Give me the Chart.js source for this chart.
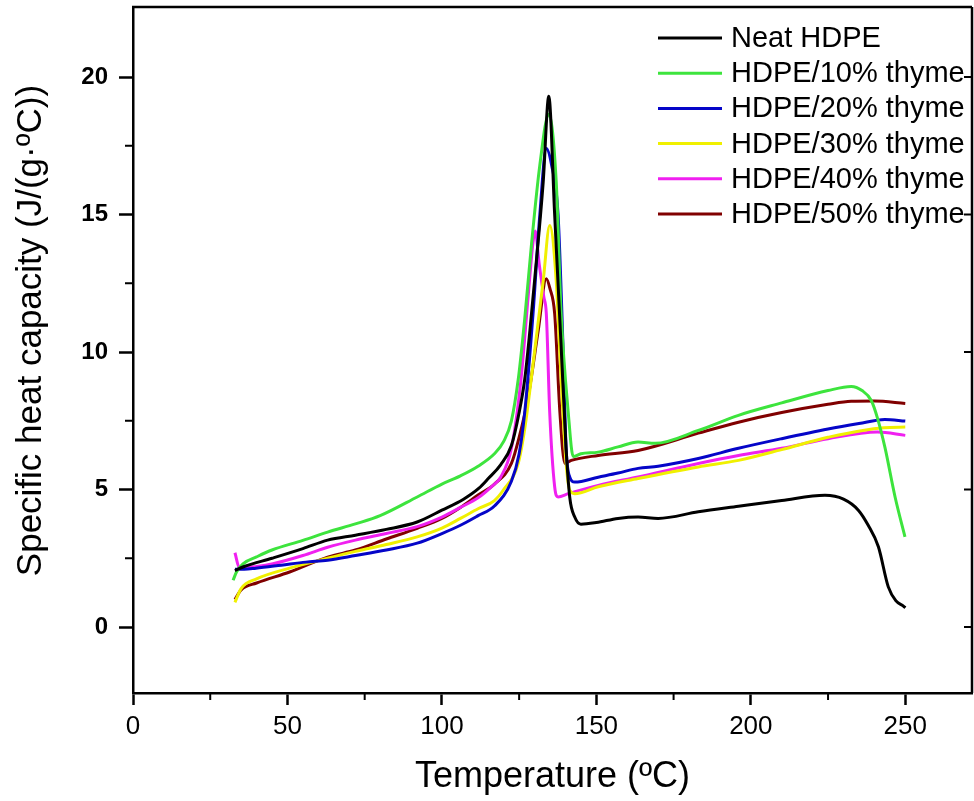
<!DOCTYPE html>
<html><head><meta charset="utf-8">
<script src="https://cdn.jsdelivr.net/npm/chart.js@4.4.1/dist/chart.umd.min.js"></script>
<style>html,body{margin:0;padding:0;background:#fff;}canvas{display:block;}</style>
</head><body>
<canvas id="c" width="974" height="801"></canvas>
<script>
// ---------- data ----------
const seriesLabels = ['Neat HDPE','HDPE/10% thyme','HDPE/20% thyme','HDPE/30% thyme','HDPE/40% thyme','HDPE/50% thyme'];
const seriesColors = ['#000000','#3de43d','#0505c8','#f0f000','#f020f0','#800000'];

const neatT  = [33,36,45,55,63,72,82,92,100,107,112,115,119,122.5,125,126.8,128.5,130,132.8,134.6,136.5,138.6,140.2,141.4,143,145,150,157,163.5,170,183,196,210,224,230,234.8,238,241.3,244.5,247,249.4,250];
const neatCp = [2.05,2.2,2.5,2.85,3.16,3.34,3.55,3.82,4.25,4.65,5.05,5.4,5.9,6.6,7.8,9.0,10.8,12.6,16.2,19.3,15.0,10.2,6.5,4.7,4.0,3.74,3.8,3.95,4.0,3.95,4.19,4.39,4.6,4.79,4.65,4.25,3.7,2.92,1.46,0.95,0.76,0.7];

const t10T  = [32.4,33.5,35.6,40,45,55,63,72,80,92,100,106,111.7,117,120,122.5,124.7,126.8,128.9,131.7,134.6,137,138.6,140.9,142.5,145,150.6,157,163.5,169,183,196,210,225,232.5,236,239,241,243.4,246.7,249.9];
const t10Cp = [1.7,2.0,2.3,2.55,2.8,3.15,3.45,3.75,4.05,4.73,5.2,5.5,5.85,6.3,6.75,7.5,9.0,11.2,13.8,16.8,18.65,16.2,11.4,7.8,6.2,6.3,6.36,6.55,6.73,6.68,7.15,7.7,8.15,8.6,8.75,8.6,8.24,7.6,6.54,4.73,3.28];

const t20T  = [33,36,39.8,48,56,63,72,82,92,100,106,111.7,117,122.5,125,126.8,129.5,131.7,133.8,135.5,137.6,139.2,140.2,141.4,143,150.6,157,163.5,170,183,196,210,225,235,243.4,250];
const t20Cp = [2.1,2.1,2.14,2.25,2.36,2.43,2.6,2.8,3.05,3.4,3.7,4.05,4.4,5.3,6.3,7.8,11.4,15.0,17.4,16.8,15.0,10.2,6.5,5.45,5.27,5.45,5.6,5.77,5.85,6.13,6.5,6.85,7.2,7.4,7.55,7.49];

const t30T  = [33,35,40,50.7,63,72,82,92,100,106,111.7,117,120,124.7,126.8,128.9,132.8,134.9,137,138.6,140.2,141.4,143,150.6,163.5,183,196,210,225,243,250];
const t30Cp = [0.9,1.4,1.75,2.14,2.5,2.75,3.0,3.28,3.6,3.95,4.3,4.6,5.0,5.95,7.2,9.0,12.6,14.6,12.6,9.0,5.95,4.97,4.85,5.1,5.4,5.82,6.06,6.45,6.9,7.25,7.27];

const t40T  = [33,34.5,40,45.3,55,63,72,82,92,100,106,111.7,116,119,122.5,125.6,127.9,129.5,130.2,131.5,133,133.8,134.9,136.5,137.6,140.9,150.6,163.5,183,196,210,225,241,250];
const t40Cp = [2.7,2.14,2.2,2.3,2.6,2.9,3.16,3.4,3.65,4.0,4.35,4.7,5.1,5.45,6.5,9.0,12.0,14.0,14.4,13.2,12.0,11.4,7.8,5.1,4.73,4.85,5.15,5.46,5.95,6.24,6.5,6.85,7.09,6.97];

const t50T  = [33,35,40,50.7,63,72,82,92,100,106,111.7,117,122.5,125,127.9,131.2,133.8,135,136.5,138.2,139.8,141.9,150.6,163.5,183,196,210,225,232.5,240,250];
const t50Cp = [1.0,1.35,1.6,2.0,2.54,2.8,3.2,3.59,3.95,4.35,4.8,5.2,5.95,6.9,8.35,10.8,12.67,12.3,11.4,7.8,5.95,6.06,6.24,6.42,7.05,7.45,7.8,8.1,8.21,8.22,8.13];

const xMajorTicks = [0,50,100,150,200,250];
const xMinorTicks = [25,75,125,175,225];
const yMajorTicks = [0,5,10,15,20];
const yMinorTicks = [2.5,7.5,12.5,17.5];

const xTitle = 'Temperature (\u00baC)';
const yTitle = 'Specific heat capacity (J/(g\u00b7\u00baC))';

// ---------- fonts ----------
function hasFont(name){
  const c=document.createElement('canvas').getContext('2d');
  c.font='40px monospace'; const a=c.measureText('0123456789HDPE').width;
  c.font='40px "'+name+'", monospace'; const b=c.measureText('0123456789HDPE').width;
  return Math.abs(a-b)>0.5;
}
const narrow = hasFont('Liberation Sans Narrow');
const FAM = '"Liberation Sans", Arial, sans-serif';
const xTickFont = narrow ? {family:'"Liberation Sans Narrow", "Liberation Sans", sans-serif', size:30} : {family:FAM, size:26};

// ---------- build ----------
const allT = [neatT,t10T,t20T,t30T,t40T,t50T];
const allCp = [neatCp,t10Cp,t20Cp,t30Cp,t40Cp,t50Cp];
const datasets = seriesLabels.map((lab,i)=>({
  label: lab,
  data: allT[i].map((t,k)=>({x:t,y:allCp[i][k]})),
  borderColor: seriesColors[i],
  backgroundColor: seriesColors[i],
  borderWidth: 3,
  pointRadius: 0,
  fill: false,
  cubicInterpolationMode: 'monotone'
}));

const framePlugin = {
  id:'frame',
  afterDraw(chart){
    const {ctx, chartArea:a, scales:{x,y}} = chart;
    ctx.save();
    ctx.strokeStyle='#000'; ctx.lineWidth=2.5; ctx.lineCap='butt';
    ctx.beginPath();
    ctx.moveTo(a.left-1, a.top); ctx.lineTo(a.right, a.top);
    ctx.moveTo(a.right, a.top); ctx.lineTo(a.right, a.bottom);
    ctx.stroke();
    ctx.lineWidth=2;
    ctx.beginPath();
    xMinorTicks.forEach(v=>{const p=x.getPixelForValue(v); ctx.moveTo(p,a.bottom); ctx.lineTo(p,a.bottom+7);});
    yMinorTicks.forEach(v=>{const p=y.getPixelForValue(v); ctx.moveTo(a.left,p); ctx.lineTo(a.left-8,p);});
    yMajorTicks.forEach(v=>{const p=y.getPixelForValue(v); ctx.moveTo(a.right,p); ctx.lineTo(a.right-8,p);});
    ctx.stroke();
    // legend
    ctx.font = '29px ' + FAM;
    ctx.textBaseline='middle'; ctx.textAlign='left';
    chart.data.datasets.forEach((d,i)=>{
      const yy = 38 + i*35.2;
      ctx.strokeStyle=d.borderColor; ctx.lineWidth=3;
      ctx.beginPath(); ctx.moveTo(658,yy); ctx.lineTo(722,yy); ctx.stroke();
      ctx.fillStyle='#000'; ctx.fillText(d.label, 731, yy+1);
    });
    ctx.restore();
  }
};

new Chart(document.getElementById('c'), {
  type:'line',
  data:{datasets},
  plugins:[framePlugin],
  options:{
    responsive:false, animation:false, devicePixelRatio:1,
    layout:{padding:{top:7,right:2,left:0,bottom:0}},
    plugins:{legend:{display:false}, tooltip:{enabled:false}},
    scales:{
      x:{
        type:'linear', min:0, max:271.6,
        afterBuildTicks(s){ s.ticks = xMajorTicks.map(v=>({value:v})); },
        afterFit(s){ s.height = 108; s.paddingLeft = 0; s.paddingRight = 0; },
        grid:{drawOnChartArea:false, drawTicks:true, tickLength:12, tickColor:'#000', tickWidth:2.5},
        border:{display:true, color:'#000', width:2.5},
        ticks:{color:'#000', font:xTickFont, padding:6, maxRotation:0, autoSkip:false},
        title:{display:true, text:xTitle, color:'#000', font:{family:FAM, size:36}, padding:{top:0,bottom:2}}
      },
      y:{
        type:'linear', min:-2.4, max:22.55,
        afterBuildTicks(s){ s.ticks = yMajorTicks.map(v=>({value:v})); },
        afterFit(s){ s.width = 133; s.paddingTop = 0; s.paddingBottom = 0; },
        grid:{drawOnChartArea:false, drawTicks:true, tickLength:14, tickColor:'#000', tickWidth:2.5},
        border:{display:true, color:'#000', width:2.5},
        ticks:{color:'#000', font:{family:FAM, size:24, weight:'bold'}, padding:11, autoSkip:false},
        title:{display:true, text:'\u00a0\u00a0\u00a0\u00a0'+yTitle, color:'#000', font:{family:FAM, size:35}, padding:{top:10,bottom:0}}
      }
    }
  }
});
</script>
</body></html>
